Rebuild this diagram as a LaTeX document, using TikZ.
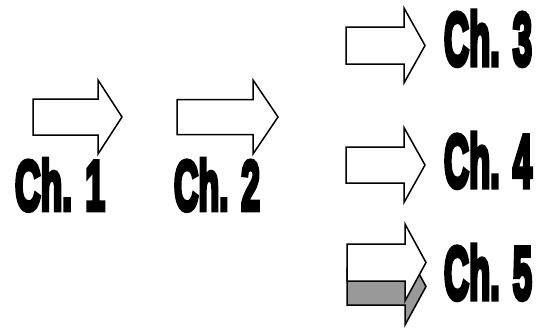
\documentclass[tikz,border=0pt]{standalone}
\usepackage{fontspec}
\usepackage{graphicx}
\newfontfamily\chfont{Liberation Sans}[FakeBold=7]
\definecolor{shadegray}{RGB}{153,153,153}
\tikzset{
  arrowline/.style={draw=black, line width=1.5pt, line join=miter, fill=white},
  pics/bigarrow/.style n args={4}{code={
    \draw[arrowline] (0,-#3) -- (#1,-#3) -- (#1,-#4) -- (#1+#2,0) -- (#1,#4) -- (#1,#3) -- (0,#3) -- cycle;
  }},
  pics/shadearrow/.style n args={4}{code={
    \draw[arrowline, fill=shadegray] (0,-#3) -- (#1,-#3) -- (#1,-#4) -- (#1+#2,0) -- (#1,#4) -- (#1,#3) -- (0,#3) -- cycle;
  }},
  chlabel/.style={anchor=north west, inner sep=0pt, outer sep=0pt}
}
\begin{document}
\begin{tikzpicture}[x=1pt,y=-1pt]
\useasboundingbox (0,0) rectangle (538,327);
% arrows
\pic (a1) at (33,117) {bigarrow={65}{24}{18}{37}};
\pic (a2) at (177,117) {bigarrow={76}{25}{17.5}{37}};
\pic (a3) at (346,45.5) {bigarrow={58}{21}{18.5}{37.5}};
\pic (a4) at (346,165) {bigarrow={58}{21}{18}{37.5}};
\pic (a5s) at (347,286.5) {shadearrow={58}{21}{18.5}{38.5}};
\pic (a5) at (347,262.5) {bigarrow={58}{21}{18.5}{38.5}};
% labels
\node[chlabel] (c1) at (15,159) {\resizebox{90pt}{51pt}{\chfont\bfseries Ch. 1}};
\node[chlabel] (c2) at (174,159) {\resizebox{86pt}{51pt}{\chfont\bfseries Ch. 2}};
\node[chlabel] (c3) at (444,11) {\resizebox{88pt}{54pt}{\chfont\bfseries Ch. 3}};
\node[chlabel] (c4) at (444,133) {\resizebox{88pt}{54pt}{\chfont\bfseries Ch. 4}};
\node[chlabel] (c5) at (444,245) {\resizebox{88pt}{54pt}{\chfont\bfseries Ch. 5}};
\end{tikzpicture}
\end{document}
